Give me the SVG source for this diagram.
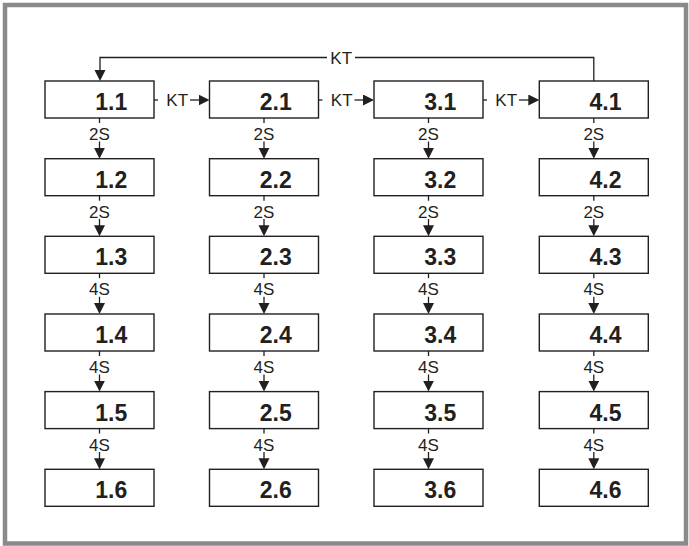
<svg xmlns="http://www.w3.org/2000/svg" width="689" height="546" viewBox="0 0 689 546">
<style>
.box{fill:#fff;stroke:#231f20;stroke-width:1.4}
.num{font-family:"Liberation Sans",Arial,sans-serif;font-weight:bold;font-size:23px;fill:#231f20;text-anchor:middle}
.lbl{font-family:"Liberation Sans",Arial,sans-serif;font-size:17px;fill:#231f20}
.ln{fill:none;stroke:#231f20;stroke-width:1.3}
</style>
<defs>
<marker id="arr" markerUnits="userSpaceOnUse" markerWidth="12" markerHeight="12" refX="5" refY="5.5" orient="auto">
<path d="M0,0 L11,5.5 L0,11 z" fill="#231f20"/>
</marker>
</defs>
<rect x="0" y="0" width="689" height="546" fill="#fff"/>
<rect x="5" y="5" width="681" height="538.5" fill="#fff" stroke="#8a8a8c" stroke-width="4.5"/>

<g id="connectors">
<path class="ln" d="M593.8,81 V57.5 H355"/>
<text class="lbl" x="341.2" y="63.8" text-anchor="middle">KT</text>
<path class="ln" d="M327,57.5 H100 V75" marker-end="url(#arr)"/>
<path class="ln" d="M154,100 H158"/>
<text class="lbl" x="177.2" y="105.8" text-anchor="middle">KT</text>
<path class="ln" d="M190,100 H203.5" marker-end="url(#arr)"/>
<path class="ln" d="M318.5,100 H322.5"/>
<text class="lbl" x="341.7" y="105.8" text-anchor="middle">KT</text>
<path class="ln" d="M354.5,100 H368" marker-end="url(#arr)"/>
<path class="ln" d="M483,100 H487"/>
<text class="lbl" x="506.2" y="105.8" text-anchor="middle">KT</text>
<path class="ln" d="M519,100 H533.3" marker-end="url(#arr)"/>
</g>

<g id="vconnectors" class="lbl" text-anchor="middle">
<path class="ln" d="M99.5,118 V123 M99.5,141.4 V152.7" marker-end="url(#arr)"/>
<text x="99.5" y="140">2S</text>
<path class="ln" d="M99.5,195.7 V200.7 M99.5,219.1 V230.3" marker-end="url(#arr)"/>
<text x="99.5" y="217.7">2S</text>
<path class="ln" d="M99.5,273.3 V278.3 M99.5,296.7 V308" marker-end="url(#arr)"/>
<text x="99.5" y="295.3">4S</text>
<path class="ln" d="M99.5,351 V356 M99.5,374.4 V385.6" marker-end="url(#arr)"/>
<text x="99.5" y="373">4S</text>
<path class="ln" d="M99.5,428.6 V433.6 M99.5,452 V463.3" marker-end="url(#arr)"/>
<text x="99.5" y="450.6">4S</text>
<path class="ln" d="M264,118 V123 M264,141.4 V152.7" marker-end="url(#arr)"/>
<text x="264" y="140">2S</text>
<path class="ln" d="M264,195.7 V200.7 M264,219.1 V230.3" marker-end="url(#arr)"/>
<text x="264" y="217.7">2S</text>
<path class="ln" d="M264,273.3 V278.3 M264,296.7 V308" marker-end="url(#arr)"/>
<text x="264" y="295.3">4S</text>
<path class="ln" d="M264,351 V356 M264,374.4 V385.6" marker-end="url(#arr)"/>
<text x="264" y="373">4S</text>
<path class="ln" d="M264,428.6 V433.6 M264,452 V463.3" marker-end="url(#arr)"/>
<text x="264" y="450.6">4S</text>
<path class="ln" d="M428.5,118 V123 M428.5,141.4 V152.7" marker-end="url(#arr)"/>
<text x="428.5" y="140">2S</text>
<path class="ln" d="M428.5,195.7 V200.7 M428.5,219.1 V230.3" marker-end="url(#arr)"/>
<text x="428.5" y="217.7">2S</text>
<path class="ln" d="M428.5,273.3 V278.3 M428.5,296.7 V308" marker-end="url(#arr)"/>
<text x="428.5" y="295.3">4S</text>
<path class="ln" d="M428.5,351 V356 M428.5,374.4 V385.6" marker-end="url(#arr)"/>
<text x="428.5" y="373">4S</text>
<path class="ln" d="M428.5,428.6 V433.6 M428.5,452 V463.3" marker-end="url(#arr)"/>
<text x="428.5" y="450.6">4S</text>
<path class="ln" d="M593.8,118 V123 M593.8,141.4 V152.7" marker-end="url(#arr)"/>
<text x="593.8" y="140">2S</text>
<path class="ln" d="M593.8,195.7 V200.7 M593.8,219.1 V230.3" marker-end="url(#arr)"/>
<text x="593.8" y="217.7">2S</text>
<path class="ln" d="M593.8,273.3 V278.3 M593.8,296.7 V308" marker-end="url(#arr)"/>
<text x="593.8" y="295.3">4S</text>
<path class="ln" d="M593.8,351 V356 M593.8,374.4 V385.6" marker-end="url(#arr)"/>
<text x="593.8" y="373">4S</text>
<path class="ln" d="M593.8,428.6 V433.6 M593.8,452 V463.3" marker-end="url(#arr)"/>
<text x="593.8" y="450.6">4S</text>
</g>

<g id="n1-1"><rect class="box" x="45" y="81" width="109" height="37"/><text class="num" x="111.2" y="110">1.1</text></g>
<g id="n1-2"><rect class="box" x="45" y="158.7" width="109" height="37"/><text class="num" x="111.2" y="187.7">1.2</text></g>
<g id="n1-3"><rect class="box" x="45" y="236.3" width="109" height="37"/><text class="num" x="111.2" y="265.3">1.3</text></g>
<g id="n1-4"><rect class="box" x="45" y="314" width="109" height="37"/><text class="num" x="111.2" y="343">1.4</text></g>
<g id="n1-5"><rect class="box" x="45" y="391.6" width="109" height="37"/><text class="num" x="111.2" y="420.6">1.5</text></g>
<g id="n1-6"><rect class="box" x="45" y="469.3" width="109" height="37"/><text class="num" x="111.2" y="498.3">1.6</text></g>

<g id="n2-1"><rect class="box" x="209.5" y="81" width="109" height="37"/><text class="num" x="275.7" y="110">2.1</text></g>
<g id="n2-2"><rect class="box" x="209.5" y="158.7" width="109" height="37"/><text class="num" x="275.7" y="187.7">2.2</text></g>
<g id="n2-3"><rect class="box" x="209.5" y="236.3" width="109" height="37"/><text class="num" x="275.7" y="265.3">2.3</text></g>
<g id="n2-4"><rect class="box" x="209.5" y="314" width="109" height="37"/><text class="num" x="275.7" y="343">2.4</text></g>
<g id="n2-5"><rect class="box" x="209.5" y="391.6" width="109" height="37"/><text class="num" x="275.7" y="420.6">2.5</text></g>
<g id="n2-6"><rect class="box" x="209.5" y="469.3" width="109" height="37"/><text class="num" x="275.7" y="498.3">2.6</text></g>

<g id="n3-1"><rect class="box" x="374" y="81" width="109" height="37"/><text class="num" x="440.2" y="110">3.1</text></g>
<g id="n3-2"><rect class="box" x="374" y="158.7" width="109" height="37"/><text class="num" x="440.2" y="187.7">3.2</text></g>
<g id="n3-3"><rect class="box" x="374" y="236.3" width="109" height="37"/><text class="num" x="440.2" y="265.3">3.3</text></g>
<g id="n3-4"><rect class="box" x="374" y="314" width="109" height="37"/><text class="num" x="440.2" y="343">3.4</text></g>
<g id="n3-5"><rect class="box" x="374" y="391.6" width="109" height="37"/><text class="num" x="440.2" y="420.6">3.5</text></g>
<g id="n3-6"><rect class="box" x="374" y="469.3" width="109" height="37"/><text class="num" x="440.2" y="498.3">3.6</text></g>

<g id="n4-1"><rect class="box" x="539.3" y="81" width="109" height="37"/><text class="num" x="605.5" y="110">4.1</text></g>
<g id="n4-2"><rect class="box" x="539.3" y="158.7" width="109" height="37"/><text class="num" x="605.5" y="187.7">4.2</text></g>
<g id="n4-3"><rect class="box" x="539.3" y="236.3" width="109" height="37"/><text class="num" x="605.5" y="265.3">4.3</text></g>
<g id="n4-4"><rect class="box" x="539.3" y="314" width="109" height="37"/><text class="num" x="605.5" y="343">4.4</text></g>
<g id="n4-5"><rect class="box" x="539.3" y="391.6" width="109" height="37"/><text class="num" x="605.5" y="420.6">4.5</text></g>
<g id="n4-6"><rect class="box" x="539.3" y="469.3" width="109" height="37"/><text class="num" x="605.5" y="498.3">4.6</text></g>
</svg>
